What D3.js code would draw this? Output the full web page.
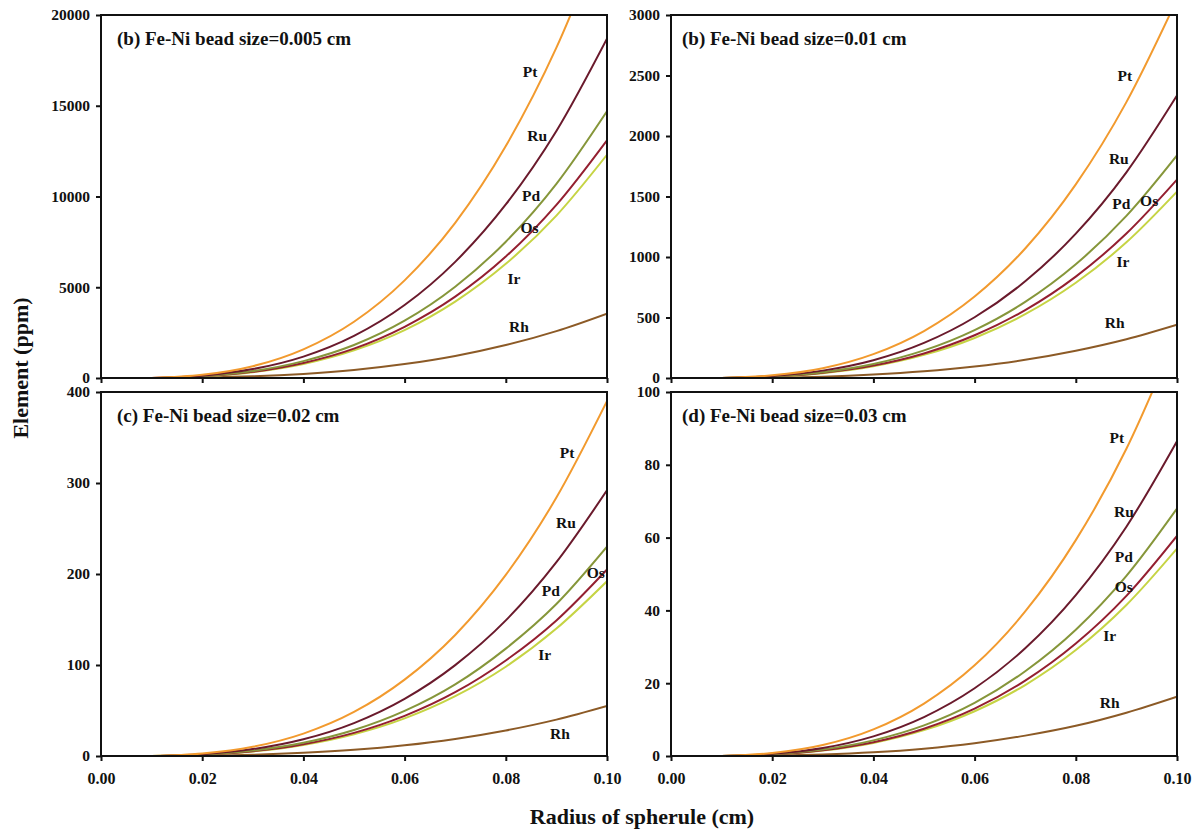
<!DOCTYPE html>
<html>
<head>
<meta charset="utf-8">
<script src="https://cdn.jsdelivr.net/npm/d3@7"></script>
<style>
  html, body { margin: 0; padding: 0; background: #fff; }
  svg { display: block; font-family: "Liberation Serif", "Times New Roman", serif; font-weight: bold; }
</style>
</head>
<body>
<svg id="chart" width="1203" height="834"></svg>
<script>
// Spherule radius (cm) at which each element concentration is sampled
const radius = [0.01, 0.02, 0.03, 0.04, 0.05, 0.06, 0.07, 0.08, 0.09, 0.10];

const elements = ["Pt", "Ru", "Pd", "Os", "Ir", "Rh"];
const elementColors = ["#f29a2e", "#6a1a2c", "#86963a", "#941f30", "#c6d444", "#8c5a26"];

// Panel (b): Fe-Ni bead size 0.005 cm, concentrations in ppm
const bead005 = {
  Pt: [0, 175, 650, 1580, 3100, 5380, 8550, 12780, 18200, 25000],
  Ru: [0, 130, 490, 1180, 2320, 4020, 6400, 9560, 13610, 18700],
  Pd: [0, 100, 380, 930, 1820, 3160, 5030, 7510, 10700, 14700],
  Os: [0, 90, 340, 830, 1620, 2820, 4480, 6690, 9540, 13100],
  Ir: [0, 85, 320, 775, 1525, 2640, 4210, 6290, 8950, 12300],
  Rh: [0, 25, 90, 225, 440, 765, 1215, 1815, 2585, 3550]
};
// Panel (b): Fe-Ni bead size 0.01 cm
const bead01 = {
  Pt: [0, 22, 81, 197, 388, 673, 1070, 1600, 2280, 3130],
  Ru: [0, 16, 61, 147, 290, 502, 799, 1193, 1700, 2335],
  Pd: [0, 13, 48, 116, 228, 396, 629, 940, 1340, 1840],
  Os: [0, 11, 43, 103, 203, 353, 561, 838, 1194, 1640],
  Ir: [0, 11, 40, 97, 191, 331, 527, 787, 1121, 1540],
  Rh: [0, 3, 11, 28, 55, 95, 150, 225, 320, 440]
};
// Panel (c): Fe-Ni bead size 0.02 cm
const bead02 = {
  Pt: [0, 2.7, 10.1, 24.6, 48.4, 83.9, 133, 199, 284, 390],
  Ru: [0, 2.0, 7.6, 18.4, 36.2, 62.8, 99.9, 149, 213, 292],
  Pd: [0, 1.6, 6.0, 14.5, 28.5, 49.5, 78.7, 118, 167, 230],
  Os: [0, 1.4, 5.3, 12.9, 25.4, 44.1, 70.1, 105, 149, 205],
  Ir: [0, 1.3, 5.0, 12.1, 23.8, 41.3, 65.7, 98.1, 140, 192],
  Rh: [0, 0.4, 1.4, 3.5, 6.8, 11.8, 18.8, 28.1, 40.0, 55]
};
// Panel (d): Fe-Ni bead size 0.03 cm
const bead03 = {
  Pt: [0, 0.8, 3.0, 7.3, 14.4, 24.9, 39.7, 59.3, 84.4, 116],
  Ru: [0, 0.6, 2.2, 5.4, 10.7, 18.6, 29.6, 44.2, 63.0, 86.5],
  Pd: [0, 0.5, 1.8, 4.3, 8.4, 14.6, 23.3, 34.7, 49.5, 68],
  Os: [0, 0.4, 1.6, 3.8, 7.5, 13.0, 20.7, 30.9, 44.0, 60.5],
  Ir: [0, 0.4, 1.5, 3.6, 7.1, 12.3, 19.5, 29.1, 41.5, 57],
  Rh: [0, 0.1, 0.4, 1.0, 2.0, 3.5, 5.6, 8.3, 11.9, 16.3]
};

// Curve label anchors [radius, ppm] per panel
const labels005 = { Pt: [0.0848, 16900], Ru: [0.0862, 13350], Pd: [0.0850, 10050], Os: [0.0847, 8300], Ir: [0.0816, 5500], Rh: [0.0826, 2850] };
const labels01  = { Pt: [0.0897, 2500], Ru: [0.0885, 1810], Pd: [0.0890, 1445], Os: [0.0945, 1470], Ir: [0.0893, 960], Rh: [0.0877, 455] };
const labels02  = { Pt: [0.0921, 333], Ru: [0.0919, 257], Pd: [0.0889, 182], Os: [0.0978, 202], Ir: [0.0877, 112], Rh: [0.0907, 25] };
const labels03  = { Pt: [0.0881, 87.4], Ru: [0.0895, 67.3], Pd: [0.0895, 54.7], Os: [0.0895, 46.7], Ir: [0.0867, 33], Rh: [0.0867, 14.8] };

const xTicks = [0.00, 0.02, 0.04, 0.06, 0.08, 0.10];

const panels = [
  { title: "(b) Fe-Ni bead size=0.005 cm", data: bead005, labels: labels005, yMax: 20000, yTicks: [0, 5000, 10000, 15000, 20000], col: 0, row: 0 },
  { title: "(b) Fe-Ni bead size=0.01 cm",  data: bead01,  labels: labels01,  yMax: 3000,  yTicks: [0, 500, 1000, 1500, 2000, 2500, 3000], col: 1, row: 0 },
  { title: "(c) Fe-Ni bead size=0.02 cm",  data: bead02,  labels: labels02,  yMax: 400,   yTicks: [0, 100, 200, 300, 400], col: 0, row: 1 },
  { title: "(d) Fe-Ni bead size=0.03 cm",  data: bead03,  labels: labels03,  yMax: 100,   yTicks: [0, 20, 40, 60, 80, 100], col: 1, row: 1 }
];

const svg = d3.select("#chart");

// Grid geometry
const colX = [[101, 607], [671, 1177]];
const rowY = [[15, 378], [392, 756]];

panels.forEach((p, i) => {
  const [x0, x1] = colX[p.col];
  const [y0, y1] = rowY[p.row];
  const x = d3.scaleLinear().domain([0, 0.1]).range([x0, x1]);
  const y = d3.scaleLinear().domain([0, p.yMax]).range([y1, y0]);

  const g = svg.append("g");

  // clip region for the curves
  const clipId = "clip" + i;
  svg.append("clipPath").attr("id", clipId)
    .append("rect").attr("x", x0).attr("y", y0).attr("width", x1 - x0).attr("height", y1 - y0);

  const line = d3.line()
    .x((d, k) => x(radius[k]))
    .y(d => y(d))
    .curve(d3.curveMonotoneX);

  const curves = g.append("g").attr("clip-path", `url(#${clipId})`);
  // draw lower curves first so upper ones sit on top
  elements.slice().reverse().forEach(el => {
    const idx = elements.indexOf(el);
    curves.append("path")
      .attr("d", line(p.data[el]))
      .attr("fill", "none")
      .attr("stroke", elementColors[idx])
      .attr("stroke-width", 2);
  });

  // frame
  g.append("rect")
    .attr("x", x0).attr("y", y0).attr("width", x1 - x0).attr("height", y1 - y0)
    .attr("fill", "none").attr("stroke", "#111").attr("stroke-width", 2);

  // y axis
  const yAxis = d3.axisLeft(y).tickValues(p.yTicks).tickSize(5).tickPadding(6).tickFormat(d3.format("d"));
  const ya = g.append("g").attr("transform", `translate(${x0},0)`).call(yAxis);
  ya.select(".domain").remove();
  ya.selectAll("line").attr("stroke", "#111").attr("stroke-width", 2);
  ya.selectAll("text").attr("font-family", "Liberation Serif, serif").attr("font-weight", "bold")
    .attr("font-size", 15.5).attr("fill", "#111");

  // x axis
  const xAxis = d3.axisBottom(x).tickValues(xTicks).tickSize(5).tickPadding(12).tickFormat(d3.format(".2f"));
  const xa = g.append("g").attr("transform", `translate(0,${y1})`).call(xAxis);
  xa.select(".domain").remove();
  xa.selectAll("line").attr("stroke", "#111").attr("stroke-width", 2);
  xa.selectAll("text").attr("font-family", "Liberation Serif, serif").attr("font-weight", "bold")
    .attr("font-size", 16).attr("fill", "#111");
  if (p.row === 0) xa.selectAll("text").remove();

  // panel title
  g.append("text")
    .attr("x", x0 + (p.col === 0 ? 16 : 11))
    .attr("y", y0 + 30)
    .attr("font-size", 19).attr("fill", "#111")
    .text(p.title);

  // element labels
  elements.forEach(el => {
    const [lx, ly] = p.labels[el];
    g.append("text")
      .attr("x", x(lx)).attr("y", y(ly))
      .attr("text-anchor", "middle").attr("dominant-baseline", "central")
      .attr("font-size", 15.5).attr("fill", "#111")
      .text(el);
  });
});

// shared axis titles
svg.append("text")
  .attr("x", 642).attr("y", 824)
  .attr("text-anchor", "middle")
  .attr("font-size", 22).attr("fill", "#111")
  .text("Radius of spherule (cm)");

svg.append("text")
  .attr("transform", "translate(28,368) rotate(-90)")
  .attr("text-anchor", "middle")
  .attr("font-size", 22).attr("fill", "#111")
  .text("Element (ppm)");
</script>
</body>
</html>
